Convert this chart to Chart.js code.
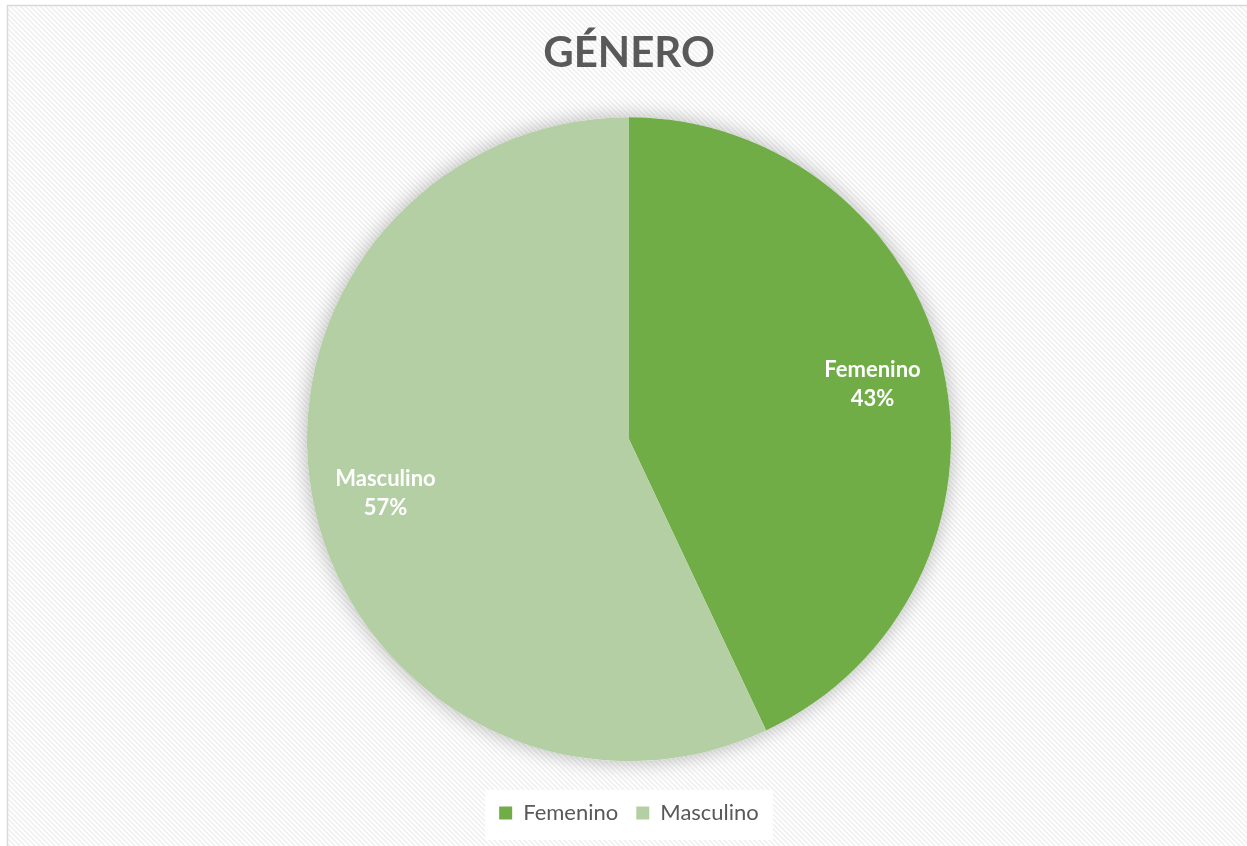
<!DOCTYPE html>
<html>
<head>
<meta charset="utf-8">
<script src="https://cdn.jsdelivr.net/npm/chart.js@4/dist/chart.umd.min.js"></script>
<style>
  html, body { margin: 0; padding: 0; background: #ffffff; }
  #wrap { width: 1247px; height: 846px; }
</style>
</head>
<body>
<div id="wrap"><canvas id="genero"></canvas></div>
<script>
// Datos del gráfico
const titulo = "GÉNERO";
const categorias = ["Femenino", "Masculino"];
const porcentajes = [43, 57];
const colores = ["#70AD47", "#B4CFA4"];

const fuente = "Lato, 'Open Sans', sans-serif";

// Fondo rayado, borde y caja blanca de la leyenda
const fondo = {
  id: "fondo",
  beforeDraw(chart) {
    const ctx = chart.ctx;
    const w = chart.width, h = chart.height;
    ctx.save();
    ctx.fillStyle = "#ffffff";
    ctx.fillRect(0, 0, w, h);
    ctx.beginPath();
    ctx.rect(7, 5, w, h);
    ctx.clip();
    ctx.beginPath();
    ctx.strokeStyle = "#efefef";
    ctx.lineWidth = 1.5;
    for (let x = -h; x < w; x += 5) {
      ctx.moveTo(x, 0);
      ctx.lineTo(x + h, h);
    }
    ctx.stroke();
    ctx.restore();

    ctx.save();
    ctx.strokeStyle = "#d9d9d9";
    ctx.lineWidth = 1.5;
    ctx.strokeRect(7.5, 5.5, w, h);
    ctx.restore();

    // caja blanca detrás de la leyenda
    const lg = chart.legend;
    if (lg && lg.legendHitBoxes && lg.legendHitBoxes.length) {
      const b = lg.legendHitBoxes;
      const x0 = Math.min(...b.map(i => i.left)) - 14;
      const x1 = Math.max(...b.map(i => i.left + i.width)) + 14;
      const yc = b[0].top + b[0].height / 2;
      ctx.save();
      ctx.fillStyle = "#ffffff";
      ctx.fillRect(x0, yc - 23, x1 - x0, 50);
      ctx.restore();
    }
  }
};

// Sombra suave alrededor del pastel
const sombra = {
  id: "sombra",
  beforeDatasetsDraw(chart) {
    const a = chart.getDatasetMeta(0).data[0];
    if (!a) return;
    const ctx = chart.ctx;
    ctx.save();
    ctx.shadowColor = "rgba(0,0,0,0.28)";
    ctx.shadowBlur = 20;
    ctx.fillStyle = "#ffffff";
    ctx.beginPath();
    ctx.arc(a.x, a.y, a.outerRadius, 0, 2 * Math.PI);
    ctx.fill();
    ctx.restore();
  }
};

// Etiquetas dentro de cada porción
const etiquetas = {
  id: "etiquetas",
  afterDatasetsDraw(chart) {
    const ctx = chart.ctx;
    const meta = chart.getDatasetMeta(0);
    ctx.save();
    ctx.fillStyle = "#ffffff";
    ctx.font = "bold 22px " + fuente;
    ctx.textAlign = "center";
    ctx.textBaseline = "middle";
    meta.data.forEach((arc, i) => {
      const mid = (arc.startAngle + arc.endAngle) / 2;
      const r = arc.outerRadius * 0.775;
      const x = arc.x + Math.cos(mid) * r;
      const y = arc.y + Math.sin(mid) * r;
      ctx.fillText(categorias[i], x, y - 15);
      ctx.fillText(porcentajes[i] + "%", x, y + 14);
    });
    ctx.restore();
  }
};

new Chart(document.getElementById("genero"), {
  type: "pie",
  plugins: [fondo, sombra, etiquetas],
  data: {
    labels: categorias,
    datasets: [{
      data: porcentajes,
      backgroundColor: colores,
      borderWidth: 0,
      radius: 322
    }]
  },
  options: {
    responsive: true,
    maintainAspectRatio: false,
    animation: false,
    layout: { padding: { left: 11, bottom: 12 } },
    plugins: {
      tooltip: { enabled: false },
      title: {
        display: true,
        text: titulo,
        color: "#595959",
        font: { family: fuente, size: 42, weight: "bold" },
        padding: { top: 28, bottom: 16 }
      },
      legend: {
        position: "bottom",
        labels: {
          boxWidth: 13,
          boxHeight: 13,
          color: "#595959",
          font: { family: fuente, size: 22 },
          padding: 18
        }
      }
    }
  }
});
</script>
</body>
</html>
